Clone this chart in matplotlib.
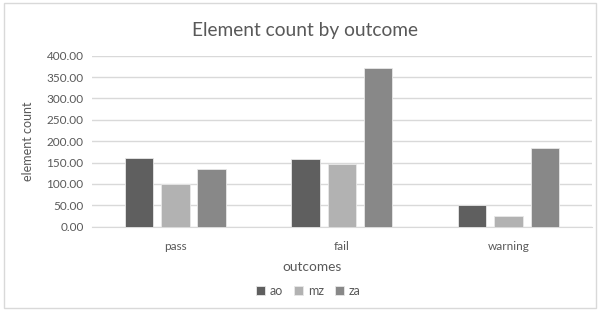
import numpy as np
import matplotlib.pyplot as plt
from matplotlib.patches import Rectangle

categories = ["pass", "fail", "warning"]
series_names = ["ao", "mz", "za"]
ao = [160, 158, 50]
mz = [100, 146, 26]
za = [135, 370, 184]
colors = ["#5f5f5f", "#b2b2b2", "#888888"]
yticks = [0, 50, 100, 150, 200, 250, 300, 350, 400]

plt.rcParams['font.family'] = ['Lato', 'DejaVu Sans']
text_color = "#595959"

fig = plt.figure(figsize=(5.99, 3.11), dpi=100)
ax = fig.add_axes([0.1536, 0.271, 0.8344, 0.550])

# Outer chart border
fig.patches.append(Rectangle((0.007, 0.01), 0.988, 0.98, transform=fig.transFigure,
                             fill=False, edgecolor="#d9d9d9", linewidth=1))

x = np.arange(len(categories))
width = 0.171
step = 0.218
for i, (vals, name) in enumerate(zip([ao, mz, za], series_names)):
    ax.bar(x + (i - 1) * step, vals, width, color=colors[i], label=name,
           edgecolor="#e8e8e8", linewidth=0.6, zorder=3)

ax.set_xlim(-0.5, 2.5)
ax.set_ylim(0, 400)
ax.set_yticks(yticks)
ax.set_yticklabels([f"{v:.2f}" for v in yticks])
ax.set_xticks(x)
ax.set_xticklabels(categories)

ax.grid(axis='y', color="#d9d9d9", linewidth=1, zorder=0)
for s in ['top', 'right', 'left']:
    ax.spines[s].set_visible(False)
ax.spines['bottom'].set_color("#d9d9d9")
ax.tick_params(length=0, labelsize=8.5, colors=text_color)
ax.tick_params(axis='x', pad=10)
ax.tick_params(axis='y', pad=6)

# Title and x label centred on the chart, not the plot area
fig.text(0.509, 0.902, "Element count by outcome", fontsize=13.8, color=text_color,
         ha='center', va='center')
fig.text(0.521, 0.141, "outcomes", fontsize=9.8, color=text_color,
         ha='center', va='center')
ax.set_ylabel("element count", fontsize=9, color=text_color, labelpad=9)

fig.legend(loc='center', bbox_to_anchor=(0.515, 0.064), ncol=3, frameon=False,
           fontsize=9, labelcolor=text_color, handlelength=0.7, handleheight=0.7,
           handletextpad=0.4, columnspacing=0.9)

plt.savefig("out.png", dpi=100)
